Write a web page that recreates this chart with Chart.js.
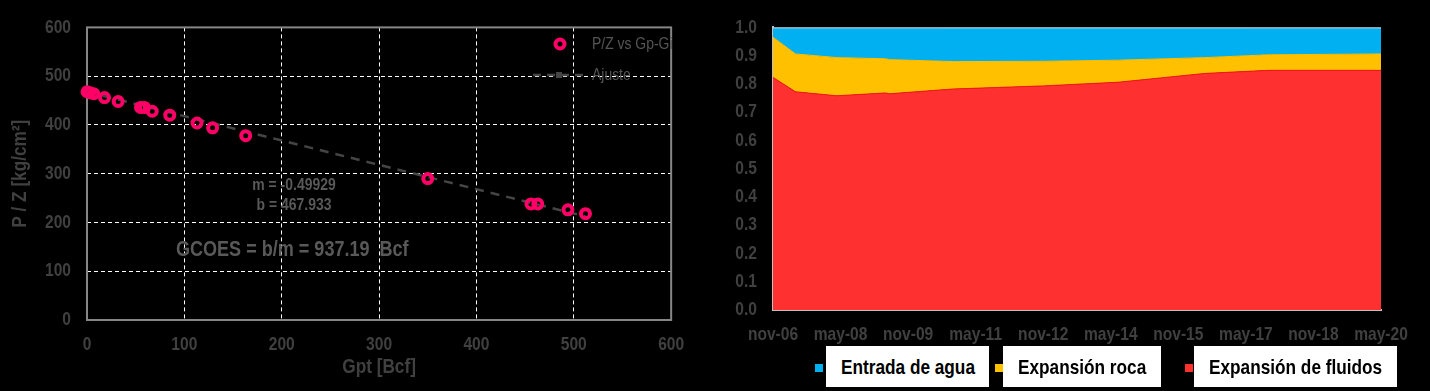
<!DOCTYPE html>
<html>
<head>
<meta charset="utf-8">
<script src="https://cdn.jsdelivr.net/npm/chart.js@4.4.1/dist/chart.umd.min.js"></script>
<style>
  html, body { margin: 0; padding: 0; background: #000; }
  body { width: 1430px; height: 391px; position: relative; overflow: hidden;
         font-family: "Liberation Sans", Arial, sans-serif; }
  #left { position: absolute; left: 0; top: 0; width: 700px; height: 391px; }
  #right { position: absolute; left: 700px; top: 0; width: 730px; height: 391px; }
  .sq { position: absolute; top: 364px; width: 8px; height: 8px; }
  .box { position: absolute; top: 346px; height: 41px; line-height: 41px; background: #fff;
         color: #000; font-weight: bold; font-size: 21px; box-sizing: border-box; padding-left: 15px; white-space: nowrap; }
  .box span { display: inline-block; transform: scaleX(0.82); transform-origin: left center; }
</style>
</head>
<body>
<div id="left"><canvas id="pz"></canvas></div>
<div id="right"><canvas id="drive"></canvas></div>

<div class="sq" style="left:815px;background:#00b0f0"></div>
<div class="box" style="left:826px;width:163px"><span>Entrada de agua</span></div>
<div class="sq" style="left:995px;background:#ffc000"></div>
<div class="box" style="left:1003px;width:158px"><span>Expansión roca</span></div>
<div class="sq" style="left:1185px;background:#ff3030"></div>
<div class="box" style="left:1194px;width:203px"><span>Expansión de fluidos</span></div>

<script>
// P/Z vs Gp-Gi
const gp = [0, 3, 7, 18, 32, 55, 59, 67, 85, 113, 129, 163, 350, 456, 463, 494, 512];
const pz = [468, 466, 464, 456, 448, 436, 436, 428, 420, 404, 394, 378, 290, 238, 238, 226, 218];
const fitGp = [0, 512];
const fitPz = [467.9, 212.3];

// drive mechanism fractions, months counted from nov-06
const months = [0, 6, 17, 30, 31, 48, 72, 92, 115, 132, 162];
const fluidos = [0.823, 0.772, 0.758, 0.768, 0.765, 0.782, 0.793, 0.806, 0.837, 0.848, 0.848];
const roca = [0.142, 0.134, 0.135, 0.121, 0.121, 0.097, 0.087, 0.078, 0.056, 0.055, 0.058];
const agua = [0.035, 0.094, 0.107, 0.111, 0.114, 0.121, 0.120, 0.116, 0.107, 0.097, 0.094];
const dateLabels = ["nov-06", "may-08", "nov-09", "may-11", "nov-12", "may-14", "nov-15", "may-17", "nov-18", "may-20"];

const FONT = '"Liberation Sans", Arial, sans-serif';
const tickGray = "#404040";
const pink = "#ff0066";

// the original uses a narrow face; squeeze every canvas text horizontally
Chart.register({
  id: "narrow",
  beforeInit(chart) {
    const base = CanvasRenderingContext2D.prototype.fillText;
    chart.ctx.fillText = function (t, x, y, w) {
      this.save();
      this.translate(x, y);
      this.scale(0.82, 1);
      if (w === undefined) base.call(this, t, 0, 0);
      else base.call(this, t, 0, 0, w / 0.82);
      this.restore();
    };
  }
});

const pzDecor = {
  id: "pzDecor",
  beforeDatasetsDraw(chart) {
    const { ctx, chartArea: a } = chart;
    ctx.save();
    ctx.strokeStyle = "#868686";
    ctx.lineWidth = 2;
    ctx.strokeRect(a.left, a.top, a.right - a.left, a.bottom - a.top);
    ctx.restore();
  },
  afterDraw(chart) {
    const { ctx } = chart;
    ctx.save();
    ctx.fillStyle = "#595959";
    ctx.textBaseline = "middle";
    ctx.textAlign = "center";
    ctx.font = "bold 17px " + FONT;
    ctx.fillText("m = -0.49929", 294, 185);
    ctx.fillText("b = 467.933", 294, 205);
    ctx.textAlign = "left";
    ctx.font = "bold 22px " + FONT;
    ctx.fillText("GCOES = b/m = 937.19  Bcf", 176, 250);

    // legend
    ctx.strokeStyle = pink;
    ctx.lineWidth = 4;
    ctx.beginPath();
    ctx.arc(560, 44, 4.5, 0, Math.PI * 2);
    ctx.stroke();
    ctx.strokeStyle = "#454545";
    ctx.lineWidth = 2.5;
    ctx.setLineDash([8, 6]);
    ctx.beginPath();
    ctx.moveTo(533, 75);
    ctx.lineTo(585, 75);
    ctx.stroke();
    ctx.setLineDash([]);
    ctx.fillStyle = "#454545";
    ctx.fillRect(556, 72, 6, 6);
    ctx.fillStyle = "#555555";
    ctx.font = "17px " + FONT;
    ctx.fillText("P/Z vs Gp-Gi", 592, 44);
    ctx.fillText("Ajuste", 592, 75);
    ctx.restore();
  }
};

new Chart(document.getElementById("pz"), {
  type: "scatter",
  data: {
    datasets: [
      {
        label: "P/Z vs Gp-Gi",
        data: gp.map((x, i) => ({ x, y: pz[i] })),
        pointRadius: 4.5,
        pointBorderWidth: 4,
        pointBorderColor: pink,
        pointBackgroundColor: "rgba(0,0,0,0)",
        pointHoverRadius: 4.5,
        clip: false
      },
      {
        label: "Ajuste",
        data: fitGp.map((x, i) => ({ x, y: fitPz[i] })),
        showLine: true,
        borderColor: "#454545",
        borderWidth: 2.5,
        borderDash: [9, 7],
        pointRadius: 0
      }
    ]
  },
  options: {
    responsive: true,
    maintainAspectRatio: false,
    animation: false,
    layout: { padding: { left: 0, right: 21, top: 20, bottom: 0 } },
    plugins: { legend: { display: false }, tooltip: { enabled: false } },
    scales: {
      x: {
        type: "linear", min: 0, max: 600,
        afterFit(s) { s.height = 71; },
        ticks: { stepSize: 100, padding: 13, color: tickGray, font: { family: FONT, size: 19, weight: "bold" } },
        grid: { color: "#ffffff", lineWidth: 1, drawTicks: false },
        border: { display: false, dash: [4, 3] },
        title: { display: true, text: "Gpt [Bcf]", color: tickGray, padding: { top: 0, bottom: 11 },
                 font: { family: FONT, size: 21, weight: "bold" } }
      },
      y: {
        min: 0, max: 600,
        afterFit(s) { s.width = 87; },
        ticks: { stepSize: 100, padding: 16, color: tickGray, font: { family: FONT, size: 19, weight: "bold" } },
        grid: { color: "#ffffff", lineWidth: 1, drawTicks: false },
        border: { display: false, dash: [4, 3] },
        title: { display: true, text: "P / Z [kg/cm²]", color: tickGray, padding: { top: 8, bottom: 0 },
                 font: { family: FONT, size: 21, weight: "bold" } }
      }
    }
  },
  plugins: [pzDecor]
});

const topLine = {
  id: "topLine",
  afterDatasetsDraw(chart) {
    const { ctx, chartArea: a } = chart;
    ctx.save();
    ctx.strokeStyle = "#d9d9d9";
    ctx.lineWidth = 1;
    ctx.beginPath();
    ctx.moveTo(a.left, a.top + 0.5);
    ctx.lineTo(a.right, a.top + 0.5);
    ctx.stroke();
    ctx.restore();
  }
};

new Chart(document.getElementById("drive"), {
  type: "line",
  data: {
    datasets: [
      { label: "Expansión de fluidos", data: months.map((m, i) => ({ x: m, y: fluidos[i] })),
        backgroundColor: "#ff3030", borderColor: "#f01818", borderWidth: 1, fill: "origin", pointRadius: 0 },
      { label: "Expansión roca", data: months.map((m, i) => ({ x: m, y: roca[i] })),
        backgroundColor: "#ffc000", borderColor: "#ffc000", borderWidth: 1, fill: "-1", pointRadius: 0 },
      { label: "Entrada de agua", data: months.map((m, i) => ({ x: m, y: agua[i] })),
        backgroundColor: "#00b0f0", borderColor: "#00b0f0", borderWidth: 1, fill: "-1", pointRadius: 0 }
    ]
  },
  options: {
    responsive: true,
    maintainAspectRatio: false,
    animation: false,
    layout: { padding: { left: 0, right: 49, top: 21, bottom: 0 } },
    plugins: { legend: { display: false }, tooltip: { enabled: false } },
    scales: {
      x: {
        type: "linear", min: 0, max: 162,
        afterFit(s) { s.height = 81; },
        ticks: { stepSize: 18, autoSkip: false, maxRotation: 0, padding: 13, color: tickGray,
                 font: { family: FONT, size: 19, weight: "bold" },
                 callback: (v, i) => dateLabels[i] },
        grid: { display: false, drawTicks: false },
        border: { color: "#c0c0c0", width: 2 }
      },
      y: {
        stacked: true, min: 0, max: 1,
        afterFit(s) { s.width = 73; },
        ticks: { stepSize: 0.1, padding: 16, color: tickGray, font: { family: FONT, size: 19, weight: "bold" },
                 callback: (v) => v.toFixed(1) },
        grid: { display: false, drawTicks: false },
        border: { color: "#c0c0c0", width: 2 }
      }
    }
  },
  plugins: [topLine]
});
</script>
</body>
</html>
